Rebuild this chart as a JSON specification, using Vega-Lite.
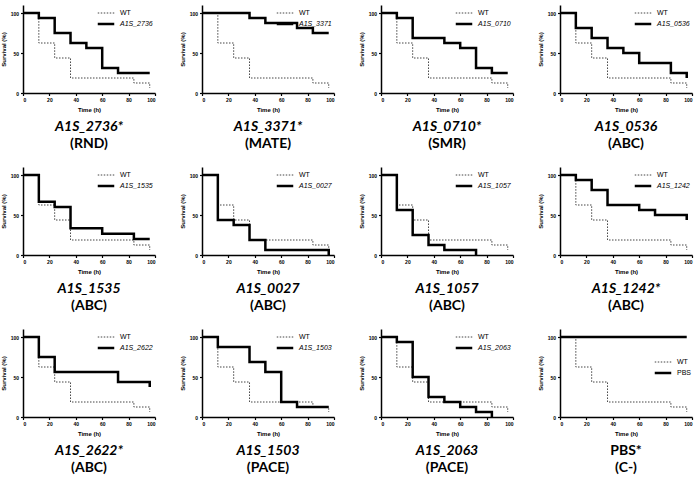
{
  "$schema": "https://vega.github.io/schema/vega-lite/v6.json",
  "padding": {"left": 0, "top": 5, "right": 2, "bottom": 2},
  "background": "white",
  "datasets": {
    "km": [
      {"p":0,"g":"WT","t":0,"s":100},{"p":0,"g":"WT","t":12,"s":62.5},{"p":0,"g":"WT","t":24,"s":43.75},{"p":0,"g":"WT","t":36,"s":18.75},{"p":0,"g":"WT","t":84,"s":12.5},{"p":0,"g":"WT","t":96,"s":6.25},
      {"p":1,"g":"A1S_2736","t":0,"s":100},{"p":1,"g":"A1S_2736","t":12,"s":93.75},{"p":1,"g":"A1S_2736","t":24,"s":75},{"p":1,"g":"A1S_2736","t":36,"s":62.5},{"p":1,"g":"A1S_2736","t":48,"s":56.25},{"p":1,"g":"A1S_2736","t":60,"s":31.25},{"p":1,"g":"A1S_2736","t":72,"s":25},{"p":1,"g":"A1S_2736","t":96,"s":25},
      {"p":2,"g":"A1S_3371","t":0,"s":100},{"p":2,"g":"A1S_3371","t":36,"s":93.75},{"p":2,"g":"A1S_3371","t":48,"s":87.5},{"p":2,"g":"A1S_3371","t":72,"s":81.25},{"p":2,"g":"A1S_3371","t":84,"s":75},{"p":2,"g":"A1S_3371","t":96,"s":75},
      {"p":3,"g":"A1S_0710","t":0,"s":100},{"p":3,"g":"A1S_0710","t":12,"s":93.75},{"p":3,"g":"A1S_0710","t":24,"s":68.75},{"p":3,"g":"A1S_0710","t":48,"s":62.5},{"p":3,"g":"A1S_0710","t":60,"s":56.25},{"p":3,"g":"A1S_0710","t":72,"s":31.25},{"p":3,"g":"A1S_0710","t":84,"s":25},{"p":3,"g":"A1S_0710","t":96,"s":25},
      {"p":4,"g":"A1S_0536","t":0,"s":100},{"p":4,"g":"A1S_0536","t":12,"s":81.25},{"p":4,"g":"A1S_0536","t":24,"s":68.75},{"p":4,"g":"A1S_0536","t":36,"s":56.25},{"p":4,"g":"A1S_0536","t":48,"s":50},{"p":4,"g":"A1S_0536","t":60,"s":37.5},{"p":4,"g":"A1S_0536","t":84,"s":25},{"p":4,"g":"A1S_0536","t":96,"s":18.75},
      {"p":5,"g":"A1S_1535","t":0,"s":100},{"p":5,"g":"A1S_1535","t":12,"s":66.7},{"p":5,"g":"A1S_1535","t":24,"s":60},{"p":5,"g":"A1S_1535","t":36,"s":33.3},{"p":5,"g":"A1S_1535","t":60,"s":26.7},{"p":5,"g":"A1S_1535","t":84,"s":20},{"p":5,"g":"A1S_1535","t":96,"s":20},
      {"p":6,"g":"A1S_0027","t":0,"s":100},{"p":6,"g":"A1S_0027","t":12,"s":43.75},{"p":6,"g":"A1S_0027","t":24,"s":37.5},{"p":6,"g":"A1S_0027","t":36,"s":18.75},{"p":6,"g":"A1S_0027","t":48,"s":6.25},{"p":6,"g":"A1S_0027","t":96,"s":0},
      {"p":7,"g":"A1S_1057","t":0,"s":100},{"p":7,"g":"A1S_1057","t":12,"s":56.25},{"p":7,"g":"A1S_1057","t":24,"s":25},{"p":7,"g":"A1S_1057","t":36,"s":12.5},{"p":7,"g":"A1S_1057","t":48,"s":6.25},{"p":7,"g":"A1S_1057","t":72,"s":0},
      {"p":8,"g":"A1S_1242","t":0,"s":100},{"p":8,"g":"A1S_1242","t":12,"s":93.75},{"p":8,"g":"A1S_1242","t":24,"s":81.25},{"p":8,"g":"A1S_1242","t":36,"s":62.5},{"p":8,"g":"A1S_1242","t":60,"s":56.25},{"p":8,"g":"A1S_1242","t":72,"s":50},{"p":8,"g":"A1S_1242","t":96,"s":43.75},
      {"p":9,"g":"A1S_2622","t":0,"s":100},{"p":9,"g":"A1S_2622","t":12,"s":75},{"p":9,"g":"A1S_2622","t":24,"s":56.25},{"p":9,"g":"A1S_2622","t":72,"s":43.75},{"p":9,"g":"A1S_2622","t":96,"s":37.5},
      {"p":10,"g":"A1S_1503","t":0,"s":100},{"p":10,"g":"A1S_1503","t":12,"s":87.5},{"p":10,"g":"A1S_1503","t":36,"s":68.75},{"p":10,"g":"A1S_1503","t":48,"s":56.25},{"p":10,"g":"A1S_1503","t":60,"s":18.75},{"p":10,"g":"A1S_1503","t":72,"s":12.5},{"p":10,"g":"A1S_1503","t":96,"s":12.5},
      {"p":11,"g":"A1S_2063","t":0,"s":100},{"p":11,"g":"A1S_2063","t":12,"s":93.75},{"p":11,"g":"A1S_2063","t":24,"s":50},{"p":11,"g":"A1S_2063","t":36,"s":25},{"p":11,"g":"A1S_2063","t":48,"s":18.75},{"p":11,"g":"A1S_2063","t":60,"s":12.5},{"p":11,"g":"A1S_2063","t":72,"s":6.25},{"p":11,"g":"A1S_2063","t":84,"s":0},
      {"p":12,"g":"PBS","t":0,"s":100},{"p":12,"g":"PBS","t":96,"s":100}
    ]
  },
  "columns": 4,
  "spacing": {"row": 16, "column": 23},
  "resolve": {
    "scale": {"color": "independent", "strokeDash": "independent", "strokeWidth": "independent"},
    "legend": {"color": "independent", "strokeDash": "independent", "strokeWidth": "independent"}
  },
  "concat": [
    {"width":132,"height":88,"data":{"name":"km"},"transform":[{"filter":"datum.p==0||datum.p==1"}],
     "title":{"text":"A1S_2736*","subtitle":"(RND)"},
     "mark":{"type":"line","interpolate":"step-after"},
     "encoding":{
      "x":{"field":"t","type":"quantitative","scale":{"domain":[0,100]},"axis":{"values":[0,20,40,60,80,100],"title":"Time (h)"}},
      "y":{"field":"s","type":"quantitative","scale":{"domain":[0,110]},"axis":{"values":[0,50,100],"title":"Survival (%)"}},
      "color":{"field":"g","type":"nominal","scale":{"domain":["WT","A1S_2736"],"range":["#444444","#000000"]},"legend":{"title":null,"encode":{"labels":{"update":{"fontStyle":{"signal":"datum.label=='WT'||datum.label=='PBS'?'normal':'italic'"}}}}}},
      "strokeDash":{"field":"g","type":"nominal","scale":{"domain":["WT","A1S_2736"],"range":[[1.5,1.5],[1,0]]},"legend":{"title":null}},
      "strokeWidth":{"field":"g","type":"nominal","scale":{"domain":["WT","A1S_2736"],"range":[1,2.5]},"legend":{"title":null}}
     }},
    {"width":132,"height":88,"data":{"name":"km"},"transform":[{"filter":"datum.p==0||datum.p==2"}],
     "title":{"text":"A1S_3371*","subtitle":"(MATE)"},
     "mark":{"type":"line","interpolate":"step-after"},
     "encoding":{
      "x":{"field":"t","type":"quantitative","scale":{"domain":[0,100]},"axis":{"values":[0,20,40,60,80,100],"title":"Time (h)"}},
      "y":{"field":"s","type":"quantitative","scale":{"domain":[0,110]},"axis":{"values":[0,50,100],"title":"Survival (%)"}},
      "color":{"field":"g","type":"nominal","scale":{"domain":["WT","A1S_3371"],"range":["#444444","#000000"]},"legend":{"title":null,"encode":{"labels":{"update":{"fontStyle":{"signal":"datum.label=='WT'||datum.label=='PBS'?'normal':'italic'"}}}}}},
      "strokeDash":{"field":"g","type":"nominal","scale":{"domain":["WT","A1S_3371"],"range":[[1.5,1.5],[1,0]]},"legend":{"title":null}},
      "strokeWidth":{"field":"g","type":"nominal","scale":{"domain":["WT","A1S_3371"],"range":[1,2.5]},"legend":{"title":null}}
     }},
    {"width":132,"height":88,"data":{"name":"km"},"transform":[{"filter":"datum.p==0||datum.p==3"}],
     "title":{"text":"A1S_0710*","subtitle":"(SMR)"},
     "mark":{"type":"line","interpolate":"step-after"},
     "encoding":{
      "x":{"field":"t","type":"quantitative","scale":{"domain":[0,100]},"axis":{"values":[0,20,40,60,80,100],"title":"Time (h)"}},
      "y":{"field":"s","type":"quantitative","scale":{"domain":[0,110]},"axis":{"values":[0,50,100],"title":"Survival (%)"}},
      "color":{"field":"g","type":"nominal","scale":{"domain":["WT","A1S_0710"],"range":["#444444","#000000"]},"legend":{"title":null,"encode":{"labels":{"update":{"fontStyle":{"signal":"datum.label=='WT'||datum.label=='PBS'?'normal':'italic'"}}}}}},
      "strokeDash":{"field":"g","type":"nominal","scale":{"domain":["WT","A1S_0710"],"range":[[1.5,1.5],[1,0]]},"legend":{"title":null}},
      "strokeWidth":{"field":"g","type":"nominal","scale":{"domain":["WT","A1S_0710"],"range":[1,2.5]},"legend":{"title":null}}
     }},
    {"width":132,"height":88,"data":{"name":"km"},"transform":[{"filter":"datum.p==0||datum.p==4"}],
     "title":{"text":"A1S_0536","subtitle":"(ABC)"},
     "mark":{"type":"line","interpolate":"step-after"},
     "encoding":{
      "x":{"field":"t","type":"quantitative","scale":{"domain":[0,100]},"axis":{"values":[0,20,40,60,80,100],"title":"Time (h)"}},
      "y":{"field":"s","type":"quantitative","scale":{"domain":[0,110]},"axis":{"values":[0,50,100],"title":"Survival (%)"}},
      "color":{"field":"g","type":"nominal","scale":{"domain":["WT","A1S_0536"],"range":["#444444","#000000"]},"legend":{"title":null,"encode":{"labels":{"update":{"fontStyle":{"signal":"datum.label=='WT'||datum.label=='PBS'?'normal':'italic'"}}}}}},
      "strokeDash":{"field":"g","type":"nominal","scale":{"domain":["WT","A1S_0536"],"range":[[1.5,1.5],[1,0]]},"legend":{"title":null}},
      "strokeWidth":{"field":"g","type":"nominal","scale":{"domain":["WT","A1S_0536"],"range":[1,2.5]},"legend":{"title":null}}
     }},
    {"width":132,"height":88,"data":{"name":"km"},"transform":[{"filter":"datum.p==0||datum.p==5"}],
     "title":{"text":"A1S_1535","subtitle":"(ABC)"},
     "mark":{"type":"line","interpolate":"step-after"},
     "encoding":{
      "x":{"field":"t","type":"quantitative","scale":{"domain":[0,100]},"axis":{"values":[0,20,40,60,80,100],"title":"Time (h)"}},
      "y":{"field":"s","type":"quantitative","scale":{"domain":[0,110]},"axis":{"values":[0,50,100],"title":"Survival (%)"}},
      "color":{"field":"g","type":"nominal","scale":{"domain":["WT","A1S_1535"],"range":["#444444","#000000"]},"legend":{"title":null,"encode":{"labels":{"update":{"fontStyle":{"signal":"datum.label=='WT'||datum.label=='PBS'?'normal':'italic'"}}}}}},
      "strokeDash":{"field":"g","type":"nominal","scale":{"domain":["WT","A1S_1535"],"range":[[1.5,1.5],[1,0]]},"legend":{"title":null}},
      "strokeWidth":{"field":"g","type":"nominal","scale":{"domain":["WT","A1S_1535"],"range":[1,2.5]},"legend":{"title":null}}
     }},
    {"width":132,"height":88,"data":{"name":"km"},"transform":[{"filter":"datum.p==0||datum.p==6"}],
     "title":{"text":"A1S_0027","subtitle":"(ABC)"},
     "mark":{"type":"line","interpolate":"step-after"},
     "encoding":{
      "x":{"field":"t","type":"quantitative","scale":{"domain":[0,100]},"axis":{"values":[0,20,40,60,80,100],"title":"Time (h)"}},
      "y":{"field":"s","type":"quantitative","scale":{"domain":[0,110]},"axis":{"values":[0,50,100],"title":"Survival (%)"}},
      "color":{"field":"g","type":"nominal","scale":{"domain":["WT","A1S_0027"],"range":["#444444","#000000"]},"legend":{"title":null,"encode":{"labels":{"update":{"fontStyle":{"signal":"datum.label=='WT'||datum.label=='PBS'?'normal':'italic'"}}}}}},
      "strokeDash":{"field":"g","type":"nominal","scale":{"domain":["WT","A1S_0027"],"range":[[1.5,1.5],[1,0]]},"legend":{"title":null}},
      "strokeWidth":{"field":"g","type":"nominal","scale":{"domain":["WT","A1S_0027"],"range":[1,2.5]},"legend":{"title":null}}
     }},
    {"width":132,"height":88,"data":{"name":"km"},"transform":[{"filter":"datum.p==0||datum.p==7"}],
     "title":{"text":"A1S_1057","subtitle":"(ABC)"},
     "mark":{"type":"line","interpolate":"step-after"},
     "encoding":{
      "x":{"field":"t","type":"quantitative","scale":{"domain":[0,100]},"axis":{"values":[0,20,40,60,80,100],"title":"Time (h)"}},
      "y":{"field":"s","type":"quantitative","scale":{"domain":[0,110]},"axis":{"values":[0,50,100],"title":"Survival (%)"}},
      "color":{"field":"g","type":"nominal","scale":{"domain":["WT","A1S_1057"],"range":["#444444","#000000"]},"legend":{"title":null,"encode":{"labels":{"update":{"fontStyle":{"signal":"datum.label=='WT'||datum.label=='PBS'?'normal':'italic'"}}}}}},
      "strokeDash":{"field":"g","type":"nominal","scale":{"domain":["WT","A1S_1057"],"range":[[1.5,1.5],[1,0]]},"legend":{"title":null}},
      "strokeWidth":{"field":"g","type":"nominal","scale":{"domain":["WT","A1S_1057"],"range":[1,2.5]},"legend":{"title":null}}
     }},
    {"width":132,"height":88,"data":{"name":"km"},"transform":[{"filter":"datum.p==0||datum.p==8"}],
     "title":{"text":"A1S_1242*","subtitle":"(ABC)"},
     "mark":{"type":"line","interpolate":"step-after"},
     "encoding":{
      "x":{"field":"t","type":"quantitative","scale":{"domain":[0,100]},"axis":{"values":[0,20,40,60,80,100],"title":"Time (h)"}},
      "y":{"field":"s","type":"quantitative","scale":{"domain":[0,110]},"axis":{"values":[0,50,100],"title":"Survival (%)"}},
      "color":{"field":"g","type":"nominal","scale":{"domain":["WT","A1S_1242"],"range":["#444444","#000000"]},"legend":{"title":null,"encode":{"labels":{"update":{"fontStyle":{"signal":"datum.label=='WT'||datum.label=='PBS'?'normal':'italic'"}}}}}},
      "strokeDash":{"field":"g","type":"nominal","scale":{"domain":["WT","A1S_1242"],"range":[[1.5,1.5],[1,0]]},"legend":{"title":null}},
      "strokeWidth":{"field":"g","type":"nominal","scale":{"domain":["WT","A1S_1242"],"range":[1,2.5]},"legend":{"title":null}}
     }},
    {"width":132,"height":88,"data":{"name":"km"},"transform":[{"filter":"datum.p==0||datum.p==9"}],
     "title":{"text":"A1S_2622*","subtitle":"(ABC)"},
     "mark":{"type":"line","interpolate":"step-after"},
     "encoding":{
      "x":{"field":"t","type":"quantitative","scale":{"domain":[0,100]},"axis":{"values":[0,20,40,60,80,100],"title":"Time (h)"}},
      "y":{"field":"s","type":"quantitative","scale":{"domain":[0,110]},"axis":{"values":[0,50,100],"title":"Survival (%)"}},
      "color":{"field":"g","type":"nominal","scale":{"domain":["WT","A1S_2622"],"range":["#444444","#000000"]},"legend":{"title":null,"encode":{"labels":{"update":{"fontStyle":{"signal":"datum.label=='WT'||datum.label=='PBS'?'normal':'italic'"}}}}}},
      "strokeDash":{"field":"g","type":"nominal","scale":{"domain":["WT","A1S_2622"],"range":[[1.5,1.5],[1,0]]},"legend":{"title":null}},
      "strokeWidth":{"field":"g","type":"nominal","scale":{"domain":["WT","A1S_2622"],"range":[1,2.5]},"legend":{"title":null}}
     }},
    {"width":132,"height":88,"data":{"name":"km"},"transform":[{"filter":"datum.p==0||datum.p==10"}],
     "title":{"text":"A1S_1503","subtitle":"(PACE)"},
     "mark":{"type":"line","interpolate":"step-after"},
     "encoding":{
      "x":{"field":"t","type":"quantitative","scale":{"domain":[0,100]},"axis":{"values":[0,20,40,60,80,100],"title":"Time (h)"}},
      "y":{"field":"s","type":"quantitative","scale":{"domain":[0,110]},"axis":{"values":[0,50,100],"title":"Survival (%)"}},
      "color":{"field":"g","type":"nominal","scale":{"domain":["WT","A1S_1503"],"range":["#444444","#000000"]},"legend":{"title":null,"encode":{"labels":{"update":{"fontStyle":{"signal":"datum.label=='WT'||datum.label=='PBS'?'normal':'italic'"}}}}}},
      "strokeDash":{"field":"g","type":"nominal","scale":{"domain":["WT","A1S_1503"],"range":[[1.5,1.5],[1,0]]},"legend":{"title":null}},
      "strokeWidth":{"field":"g","type":"nominal","scale":{"domain":["WT","A1S_1503"],"range":[1,2.5]},"legend":{"title":null}}
     }},
    {"width":132,"height":88,"data":{"name":"km"},"transform":[{"filter":"datum.p==0||datum.p==11"}],
     "title":{"text":"A1S_2063","subtitle":"(PACE)"},
     "mark":{"type":"line","interpolate":"step-after"},
     "encoding":{
      "x":{"field":"t","type":"quantitative","scale":{"domain":[0,100]},"axis":{"values":[0,20,40,60,80,100],"title":"Time (h)"}},
      "y":{"field":"s","type":"quantitative","scale":{"domain":[0,110]},"axis":{"values":[0,50,100],"title":"Survival (%)"}},
      "color":{"field":"g","type":"nominal","scale":{"domain":["WT","A1S_2063"],"range":["#444444","#000000"]},"legend":{"title":null,"encode":{"labels":{"update":{"fontStyle":{"signal":"datum.label=='WT'||datum.label=='PBS'?'normal':'italic'"}}}}}},
      "strokeDash":{"field":"g","type":"nominal","scale":{"domain":["WT","A1S_2063"],"range":[[1.5,1.5],[1,0]]},"legend":{"title":null}},
      "strokeWidth":{"field":"g","type":"nominal","scale":{"domain":["WT","A1S_2063"],"range":[1,2.5]},"legend":{"title":null}}
     }},
    {"width":132,"height":88,"data":{"name":"km"},"transform":[{"filter":"datum.p==0||datum.p==12"}],
     "title":{"text":"PBS*","subtitle":"(C-)","fontStyle":"normal"},
     "mark":{"type":"line","interpolate":"step-after"},
     "encoding":{
      "x":{"field":"t","type":"quantitative","scale":{"domain":[0,100]},"axis":{"values":[0,20,40,60,80,100],"title":"Time (h)"}},
      "y":{"field":"s","type":"quantitative","scale":{"domain":[0,110]},"axis":{"values":[0,50,100],"title":"Survival (%)"}},
      "color":{"field":"g","type":"nominal","scale":{"domain":["WT","PBS"],"range":["#444444","#000000"]},"legend":{"title":null,"orient":"none","legendX":96,"legendY":27,"encode":{"labels":{"update":{"fontStyle":{"signal":"datum.label=='WT'||datum.label=='PBS'?'normal':'italic'"}}}}}},
      "strokeDash":{"field":"g","type":"nominal","scale":{"domain":["WT","PBS"],"range":[[1.5,1.5],[1,0]]},"legend":{"title":null,"orient":"none","legendX":96,"legendY":27}},
      "strokeWidth":{"field":"g","type":"nominal","scale":{"domain":["WT","PBS"],"range":[1,2.5]},"legend":{"title":null,"orient":"none","legendX":96,"legendY":27}}
     }}
  ],
  "config": {
    "view": {"stroke": null},
    "font": "Liberation Sans",
    "axis": {"grid": false, "domainColor": "#000000", "domainWidth": 1.5, "tickColor": "#000000", "tickWidth": 1.2, "tickSize": 2.5, "labelFontSize": 5, "labelFontWeight": "bold", "labelColor": "#000000", "labelPadding": 2, "titleFontSize": 6, "titleFontWeight": "bold", "titleColor": "#000000", "titlePadding": 4},
    "legend": {"orient": "top-right", "offset": 2, "padding": 0, "symbolType": "M-1.5,0H1.5", "symbolSize": 121, "labelFontSize": 7, "labelColor": "#000000", "rowPadding": 1, "labelOffset": 7},
    "title": {"orient": "bottom", "anchor": "middle", "font": "Lato", "fontSize": 14, "fontWeight": "bold", "fontStyle": "italic", "color": "#000000", "subtitleFont": "Lato", "subtitleFontSize": 14, "subtitleFontWeight": "bold", "subtitleFontStyle": "normal", "subtitleColor": "#000000", "subtitlePadding": 3, "offset": 7}
  }
}
